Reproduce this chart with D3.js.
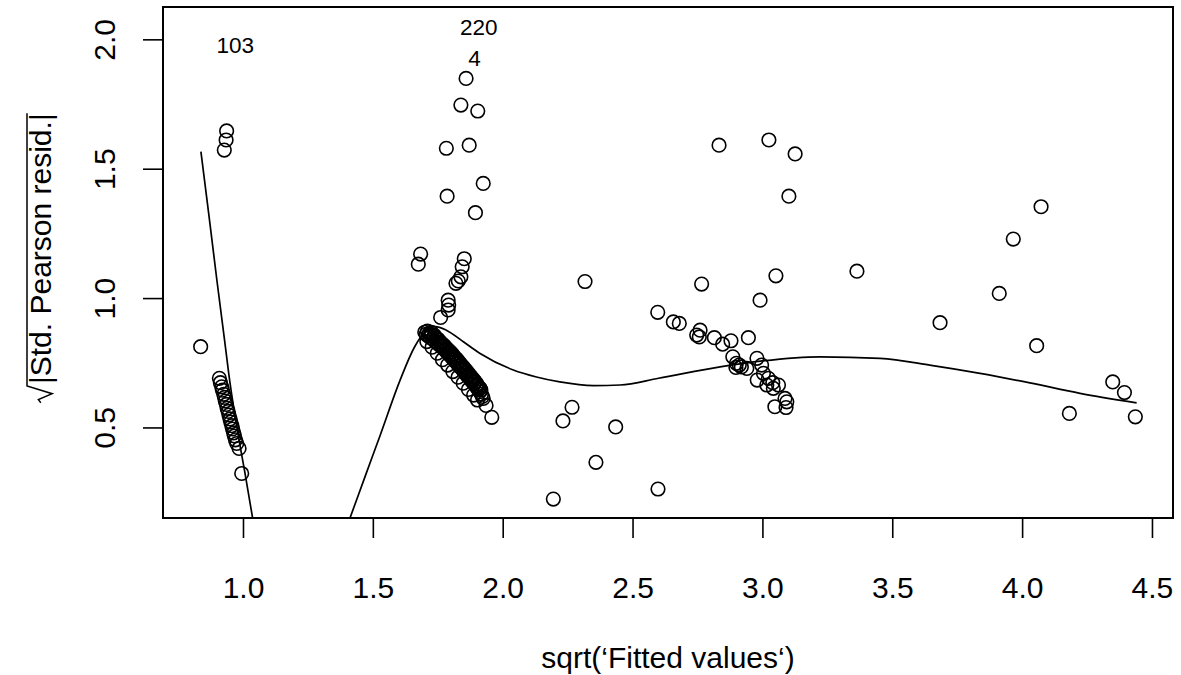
<!DOCTYPE html>
<html>
<head>
<meta charset="utf-8">
<script src="https://cdn.jsdelivr.net/npm/d3@7"></script>
<style>
  html, body { margin: 0; padding: 0; background: #ffffff; }
  svg { display: block; font-family: "Liberation Sans", Arial, Helvetica, sans-serif; }
</style>
</head>
<body>
<svg id="chart" width="1181" height="675"></svg>
<script>
// Scale-location diagnostic: sqrt(|standardised Pearson residual|) against sqrt(fitted value)

// x: sqrt of fitted values, one entry per observation
const sqrtFitted = [
  // low fitted group
  0.837, 0.937, 0.935, 0.928,
  0.909, 0.913, 0.918, 0.921, 0.926, 0.929, 0.932, 0.936, 0.939, 0.943,
  0.946, 0.950, 0.953, 0.957, 0.960, 0.964, 0.967, 0.971, 0.976, 0.985, 0.995,
  // middle column
  1.859, 1.839, 1.904, 1.783, 1.871, 1.925, 1.786, 1.895, 1.684, 1.675,
  1.852, 1.844, 1.839, 1.820, 1.829, 1.790, 1.792, 1.790, 1.761,
  // middle dense band
  1.700, 1.705, 1.710, 1.712, 1.718, 1.720, 1.725, 1.730, 1.735, 1.738,
  1.742, 1.748, 1.752, 1.755, 1.760, 1.764, 1.768, 1.772, 1.776, 1.780,
  1.784, 1.788, 1.792, 1.795, 1.800, 1.803, 1.807, 1.810, 1.814, 1.818,
  1.822, 1.825, 1.829, 1.832, 1.836, 1.840, 1.843, 1.847, 1.850, 1.854,
  1.858, 1.861, 1.865, 1.868, 1.872, 1.876, 1.879, 1.883, 1.887, 1.890,
  1.894, 1.898, 1.901, 1.905, 1.908, 1.912, 1.916, 1.918, 1.922, 1.925,
  1.725, 1.737, 1.750, 1.760, 1.772, 1.783, 1.795, 1.805, 1.815, 1.827,
  1.838, 1.849, 1.860, 1.871, 1.881, 1.892, 1.903, 1.913,
  1.708, 1.728, 1.748, 1.768, 1.788, 1.808, 1.828, 1.848, 1.868, 1.888, 1.903,
  1.936, 1.958,
  // right spread
  2.195, 2.232, 2.267, 2.317, 2.359, 2.435, 2.598,
  2.597, 2.657, 2.680, 2.766, 2.760, 2.747, 2.757, 2.815, 2.847, 2.879,
  2.946, 2.991, 3.052, 2.886, 2.900, 2.911, 2.919, 2.898, 2.940, 2.979,
  2.997, 3.004, 2.980, 3.023, 3.040, 3.062, 3.017, 3.042, 3.087, 3.094,
  3.048, 3.091,
  2.833, 3.025, 3.126, 3.102, 3.364, 3.684, 3.912, 3.966, 4.073, 4.056,
  4.182, 4.349, 4.394, 4.436
];

// y: sqrt(|Std. Pearson resid.|), same order as sqrtFitted
const sqrtAbsResid = [
  0.812, 1.646, 1.611, 1.572,
  0.690, 0.673, 0.657, 0.644, 0.628, 0.616, 0.602, 0.589, 0.574, 0.562,
  0.548, 0.533, 0.521, 0.507, 0.494, 0.479, 0.467, 0.452, 0.438, 0.419, 0.322,
  1.849, 1.746, 1.723, 1.579, 1.591, 1.443, 1.394, 1.330, 1.170, 1.131,
  1.152, 1.121, 1.082, 1.057, 1.066, 0.992, 0.973, 0.954, 0.925,
  0.868, 0.860, 0.872, 0.855, 0.864, 0.848, 0.858, 0.842, 0.852, 0.835,
  0.845, 0.828, 0.838, 0.820, 0.830, 0.812, 0.822, 0.805, 0.815, 0.797,
  0.806, 0.788, 0.798, 0.780, 0.790, 0.772, 0.782, 0.764, 0.773, 0.755,
  0.765, 0.747, 0.756, 0.738, 0.748, 0.730, 0.739, 0.721, 0.731, 0.712,
  0.722, 0.703, 0.713, 0.695, 0.704, 0.686, 0.695, 0.677, 0.686, 0.668,
  0.677, 0.658, 0.667, 0.648, 0.655, 0.638, 0.645, 0.628, 0.620, 0.612,
  0.868, 0.856, 0.841, 0.829, 0.815, 0.803, 0.788, 0.777, 0.765, 0.750,
  0.739, 0.724, 0.713, 0.699, 0.688, 0.676, 0.661, 0.651,
  0.832, 0.810, 0.787, 0.762, 0.741, 0.716, 0.694, 0.671, 0.647, 0.625, 0.606,
  0.585, 0.539,
  0.223, 0.525, 0.578, 1.064, 0.365, 0.502, 0.262,
  0.945, 0.908, 0.902, 1.054, 0.876, 0.857, 0.850, 0.847, 0.822, 0.835,
  0.847, 0.992, 1.086, 0.773, 0.748, 0.741, 0.734, 0.732, 0.728, 0.767,
  0.741, 0.709, 0.683, 0.690, 0.673, 0.664, 0.664, 0.651, 0.612, 0.599,
  0.580, 0.577,
  1.591, 1.611, 1.557, 1.394, 1.104, 0.905, 1.018, 1.228, 1.353, 0.816,
  0.554, 0.676, 0.635, 0.541
];

// Smoother through the points, drawn in two pieces (it leaves the panel between them)
const smoothLeftX  = [0.838, 0.870, 0.900, 0.930, 0.950, 0.980, 1.010, 1.037, 1.050];
const smoothLeftY  = [1.566, 1.310, 1.065, 0.830, 0.672, 0.480, 0.310, 0.150, 0.075];
const smoothRightX = [1.390, 1.412, 1.470, 1.528, 1.605, 1.660, 1.707, 1.740, 1.783, 1.850,
                      1.913, 2.041, 2.130, 2.220, 2.350, 2.452, 2.600, 2.837, 3.000, 3.222,
                      3.453, 3.650, 3.838, 4.030, 4.223, 4.441];
const smoothRightY = [0.090, 0.150, 0.310, 0.469, 0.683, 0.810, 0.875, 0.890, 0.876, 0.830,
                      0.786, 0.722, 0.695, 0.676, 0.662, 0.664, 0.690, 0.734, 0.757, 0.773,
                      0.767, 0.740, 0.709, 0.672, 0.632, 0.595];

// Identified observations
const idLabels = ["103", "220", "4"];
const idX = [0.879, 1.816, 1.848];
const idY = [1.979, 2.049, 1.927];

// Axis ticks
const xTicks = [1.0, 1.5, 2.0, 2.5, 3.0, 3.5, 4.0, 4.5];
const yTicks = [0.5, 1.0, 1.5, 2.0];

const xTitle = "sqrt(\u2018Fitted values\u2018)";
const yTitle = "|Std. Pearson resid.|";

// ---- layout ----
const panel = { left: 163, right: 1173, top: 7, bottom: 518 };
const fs = 30;

const svg = d3.select("#chart");

const x = d3.scaleLinear().domain([0.692, 4.581]).range([panel.left, panel.right]);
const y = d3.scaleLinear().domain([0.150, 2.125]).range([panel.bottom, panel.top]);

svg.append("defs").append("clipPath").attr("id", "panel-clip")
  .append("rect")
  .attr("x", panel.left).attr("y", panel.top)
  .attr("width", panel.right - panel.left)
  .attr("height", panel.bottom - panel.top);

// points
const pts = sqrtFitted.map((v, i) => [v, sqrtAbsResid[i]]);
svg.append("g")
  .selectAll("circle")
  .data(pts)
  .join("circle")
  .attr("cx", d => x(d[0]))
  .attr("cy", d => y(d[1]))
  .attr("r", 6.8)
  .attr("fill", "none")
  .attr("stroke", "#000")
  .attr("stroke-width", 1.6);

// smoother
const line = d3.line()
  .x(d => x(d[0]))
  .y(d => y(d[1]))
  .curve(d3.curveMonotoneX);

const smoothG = svg.append("g").attr("clip-path", "url(#panel-clip)");
[[smoothLeftX, smoothLeftY], [smoothRightX, smoothRightY]].forEach(([xs, ys]) => {
  smoothG.append("path")
    .attr("d", line(xs.map((v, i) => [v, ys[i]])))
    .attr("fill", "none")
    .attr("stroke", "#000")
    .attr("stroke-width", 1.7);
});

// identification labels, to the right of their points
svg.append("g")
  .selectAll("text")
  .data(idLabels.map((t, i) => ({ t, x: idX[i], y: idY[i] })))
  .join("text")
  .attr("x", d => x(d.x) + 5)
  .attr("y", d => y(d.y))
  .attr("dy", "0.36em")
  .attr("font-size", 22.5)
  .attr("fill", "#000")
  .text(d => d.t);

// panel box
svg.append("rect")
  .attr("x", panel.left).attr("y", panel.top)
  .attr("width", panel.right - panel.left)
  .attr("height", panel.bottom - panel.top)
  .attr("fill", "none")
  .attr("stroke", "#000")
  .attr("stroke-width", 2);

// x axis
const gx = svg.append("g")
  .attr("transform", `translate(0,${panel.bottom})`)
  .call(d3.axisBottom(x).tickValues(xTicks).tickSize(20).tickSizeOuter(0)
        .tickFormat(d => d.toFixed(1)));
gx.select(".domain").remove();
gx.selectAll(".tick line").attr("stroke", "#000").attr("stroke-width", 1.6);
gx.selectAll(".tick text")
  .attr("y", 80).attr("dy", null)
  .attr("font-size", fs)
  .attr("fill", "#000");
gx.attr("font-family", null).attr("font-size", null);

// y axis
const gy = svg.append("g")
  .attr("transform", `translate(${panel.left},0)`)
  .call(d3.axisLeft(y).tickValues(yTicks).tickSize(20).tickSizeOuter(0)
        .tickFormat(d => d.toFixed(1)));
gy.select(".domain").remove();
gy.selectAll(".tick line").attr("stroke", "#000").attr("stroke-width", 1.6);
gy.selectAll(".tick text")
  .attr("x", 0).attr("y", 0).attr("dy", null)
  .attr("transform", "translate(-48,0) rotate(-90)")
  .attr("text-anchor", "middle")
  .attr("font-size", fs)
  .attr("fill", "#000");
gy.attr("font-family", null).attr("font-size", null);

// x title
svg.append("text")
  .attr("x", (panel.left + panel.right) / 2)
  .attr("y", 668)
  .attr("text-anchor", "middle")
  .attr("font-size", fs)
  .attr("fill", "#000")
  .text(xTitle);

// y title: square root sign over |Std. Pearson resid.|
const yt = svg.append("g").attr("transform", "translate(51,258) rotate(-90)");
const ytText = yt.append("text")
  .attr("font-size", fs)
  .attr("fill", "#000")
  .text(yTitle);
const ytLen = ytText.node().getComputedTextLength();
const radW = 0.62 * fs;
const ytTotal = radW + ytLen;
const ytStart = -ytTotal / 2;
ytText.attr("x", ytStart + radW);
const barY = -0.8 * fs;
yt.append("path")
  .attr("d", `M${ytStart},${-0.34 * fs} L${ytStart + 0.1 * fs},${-0.42 * fs} L${ytStart + 0.3 * fs},${0.04 * fs} ` +
             `L${ytStart + 0.56 * fs},${barY} L${ytStart + ytTotal},${barY}`)
  .attr("fill", "none")
  .attr("stroke", "#000")
  .attr("stroke-width", 1.5)
  .attr("stroke-linejoin", "miter");
</script>
</body>
</html>
